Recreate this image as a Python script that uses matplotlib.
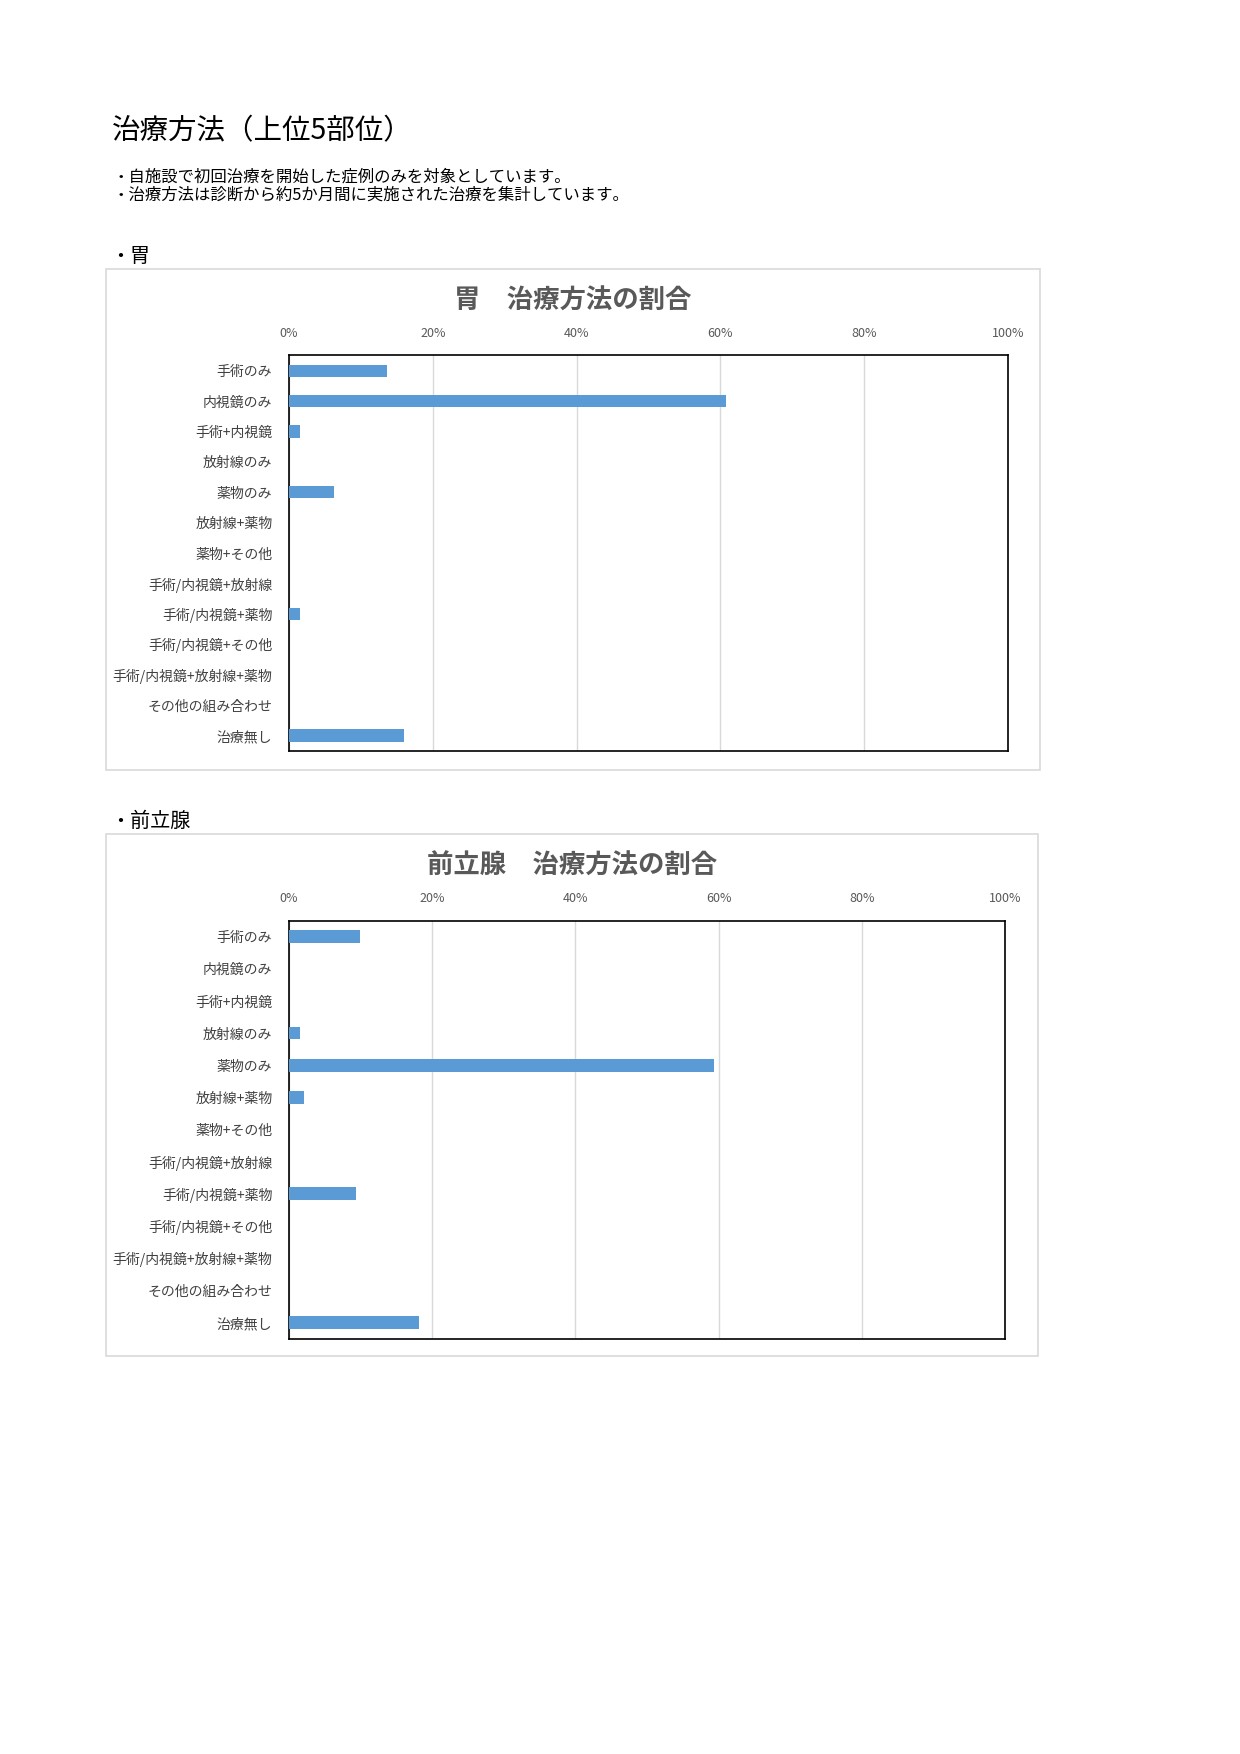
import matplotlib
matplotlib.use("Agg")
import matplotlib.pyplot as plt
from matplotlib.patches import Rectangle

plt.rcParams['font.family'] = ['Noto Sans CJK JP', 'DejaVu Sans']

W, H = 1240, 1754
K = 0.993  # layout fine-tune

# data
categories = ['手術のみ', '内視鏡のみ', '手術+内視鏡', '放射線のみ', '薬物のみ',
              '放射線+薬物', '薬物+その他', '手術/内視鏡+放射線', '手術/内視鏡+薬物',
              '手術/内視鏡+その他', '手術/内視鏡+放射線+薬物', 'その他の組み合わせ', '治療無し']
stomach = [13.7, 60.8, 1.6, 0, 6.3, 0, 0, 0, 1.6, 0, 0, 0, 16.0]
prostate = [9.9, 0, 0, 1.6, 59.3, 2.1, 0, 0, 9.4, 0, 0, 0, 18.2]
xticks = [0, 20, 40, 60, 80, 100]
xtick_labels = ['0%', '20%', '40%', '60%', '80%', '100%']

fig = plt.figure(figsize=(W / 100, H / 100), dpi=100)


def px_axes(x0, y0, x1, y1):
    x0, y0, x1, y1 = x0 * K, y0 * K, x1 * K, y1 * K
    return fig.add_axes([x0 / W, 1 - y1 / H, (x1 - x0) / W, (y1 - y0) / H])


def fig_text(x, y, s, **kw):
    fig.text(x * K / W, 1 - y * K / H, s, **kw)


fig_text(113, 132, '治療方法（上位5部位）', fontsize=20.5, va='center', ha='left')
fig_text(113, 178, '・自施設で初回治療を開始した症例のみを対象としています。',
         fontsize=11.8, va='center', ha='left')
fig_text(113, 197, '・治療方法は診断から約5か月間に実施された治療を集計しています。',
         fontsize=11.8, va='center', ha='left')


def draw_chart(label, title, values, box, plot):
    bx0, by0, bx1, by1 = box
    fig_text(bx0 + 4, by0 - 13, '・' + label, fontsize=14.5, va='center', ha='left')
    fig.patches.append(Rectangle((bx0 * K / W, 1 - by1 * K / H), (bx1 - bx0) * K / W,
                                 (by1 - by0) * K / H, transform=fig.transFigure,
                                 facecolor='none', edgecolor='#D9D9D9', linewidth=1.2))
    px0, py0, px1, py1 = plot
    fig_text((bx0 + bx1) / 2, by0 + 32, title, fontsize=19, fontweight='bold',
             color='#595959', va='center', ha='center')
    ax = px_axes(px0, py0, px1, py1)
    y = range(len(categories))
    ax.barh(y, values, height=0.4, color='#5B9BD5', linewidth=0, zorder=3)
    ax.set_xlim(0, 100)
    ax.set_ylim(len(categories) - 0.5, -0.5)
    ax.set_yticks(list(y))
    ax.set_yticklabels(categories, fontsize=10, color='#404040')
    ax.set_xticks(xticks)
    ax.set_xticklabels(xtick_labels, fontsize=9, color='#595959')
    ax.xaxis.tick_top()
    ax.tick_params(axis='both', length=0)
    ax.tick_params(axis='x', pad=11)
    ax.tick_params(axis='y', pad=12)
    ax.grid(axis='x', color='#D9D9D9', linewidth=1, zorder=0)
    ax.set_axisbelow(True)
    for s in ax.spines.values():
        s.set_color('black')
        s.set_linewidth(1.2)


draw_chart('胃', '胃　治療方法の割合', stomach,
           (107, 271, 1047, 775), (291, 358, 1015, 756))
draw_chart('前立腺', '前立腺　治療方法の割合', prostate,
           (107, 840, 1045, 1366), (291, 927, 1012, 1348))

fig.savefig('out.png', dpi=100, facecolor='white')
